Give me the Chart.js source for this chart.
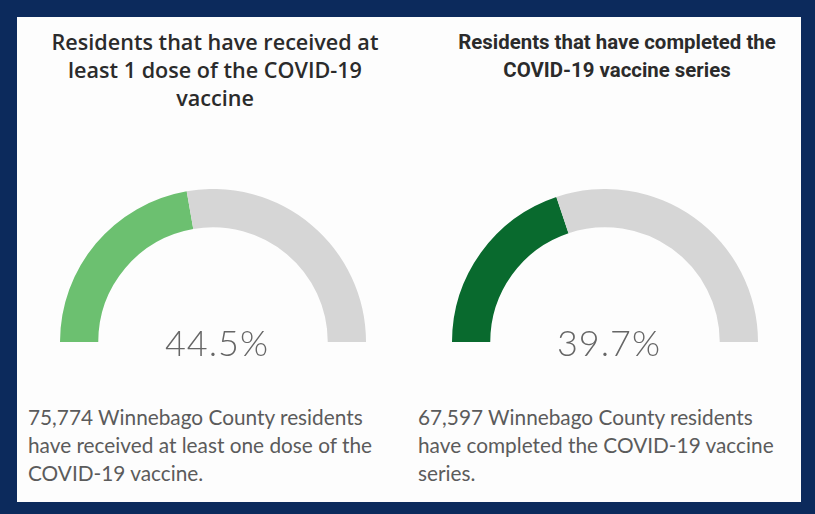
<!DOCTYPE html>
<html>
<head>
<meta charset="utf-8">
<script src="https://cdn.jsdelivr.net/npm/chart.js"></script>
<style>
    html, body { margin: 0; padding: 0; }
    body { width: 815px; height: 514px; background: #0c2a5c; position: relative; overflow: hidden; }
    .panel { position: absolute; left: 17px; top: 17px; width: 784px; height: 485px; background: #fdfdfd; }
    .title { position: absolute; text-align: center; color: #2b2b2b; font-weight: 600; }
    .gauge { position: absolute; width: 306px; height: 181px; }
    .note { position: absolute; color: #5b5b5b; font-family: Lato, sans-serif; font-size: 20.8px; line-height: 28px; }
</style>
</head>
<body>
<div class="panel"></div>
<div class="title" id="title0" style="left:40px; width:350px; top:28px; font-family:'Open Sans', sans-serif; font-size:21.6px; line-height:28px;"></div>
<div class="title" id="title1" style="left:437px; width:360px; top:28px; font-family:Roboto, sans-serif; font-weight:700; font-size:20.4px; line-height:28px;"></div>
<div class="gauge" style="left:60px; top:189px;"><canvas id="gauge0"></canvas></div>
<div class="gauge" style="left:452px; top:189px;"><canvas id="gauge1"></canvas></div>
<div class="note" id="note0" style="left:28px; top:403px; width:362px;"></div>
<div class="note" id="note1" style="left:418px; top:403px; width:380px;"></div>
<script>
// gauge data
const titles = [
    'Residents that have received at least 1 dose of the COVID-19 vaccine',
    'Residents that have completed the COVID-19 vaccine series'
];
const percentValues = [44.5, 39.7];
const residentCounts = [75774, 67597];
const notes = [
    'Winnebago County residents have received at least one dose of the COVID-19 vaccine.',
    'Winnebago County residents have completed the COVID-19 vaccine series.'
];
const fillColors = ['#6cc070', '#096a2e'];
const trackColor = '#d6d6d6';

// draws the percentage under the arc
const centerTextPlugin = {
    id: 'centerText',
    afterDraw(chart) {
        const arc = chart.getDatasetMeta(0).data[0];
        if (!arc) return;
        const ctx = chart.ctx;
        ctx.save();
        ctx.font = '300 36px Lato, sans-serif';
        ctx.fillStyle = '#666666';
        ctx.textAlign = 'center';
        ctx.textBaseline = 'alphabetic';
        ctx.letterSpacing = '1px';
        ctx.fillText(chart.options.plugins.centerText.text, arc.x + 4, arc.y + 14);
        ctx.restore();
    }
};

function buildGauge(index) {
    const value = percentValues[index];
    const ctx = document.getElementById('gauge' + index).getContext('2d');
    return new Chart(ctx, {
        type: 'doughnut',
        data: {
            labels: ['Vaccinated', 'Remaining'],
            datasets: [{
                data: [value, 100 - value],
                backgroundColor: [fillColors[index], trackColor],
                borderWidth: 0,
                hoverOffset: 0
            }]
        },
        options: {
            responsive: true,
            maintainAspectRatio: false,
            animation: false,
            rotation: -90,
            circumference: 180,
            cutout: '75%',
            layout: { padding: { bottom: 28 } },
            plugins: {
                legend: { display: false },
                tooltip: { enabled: false },
                centerText: { text: value.toFixed(1) + '%' }
            }
        },
        plugins: [centerTextPlugin]
    });
}

titles.forEach((t, i) => {
    document.getElementById('title' + i).textContent = t;
    document.getElementById('note' + i).textContent = residentCounts[i].toLocaleString('en-US') + ' ' + notes[i];
    buildGauge(i);
});
</script>
</body>
</html>
